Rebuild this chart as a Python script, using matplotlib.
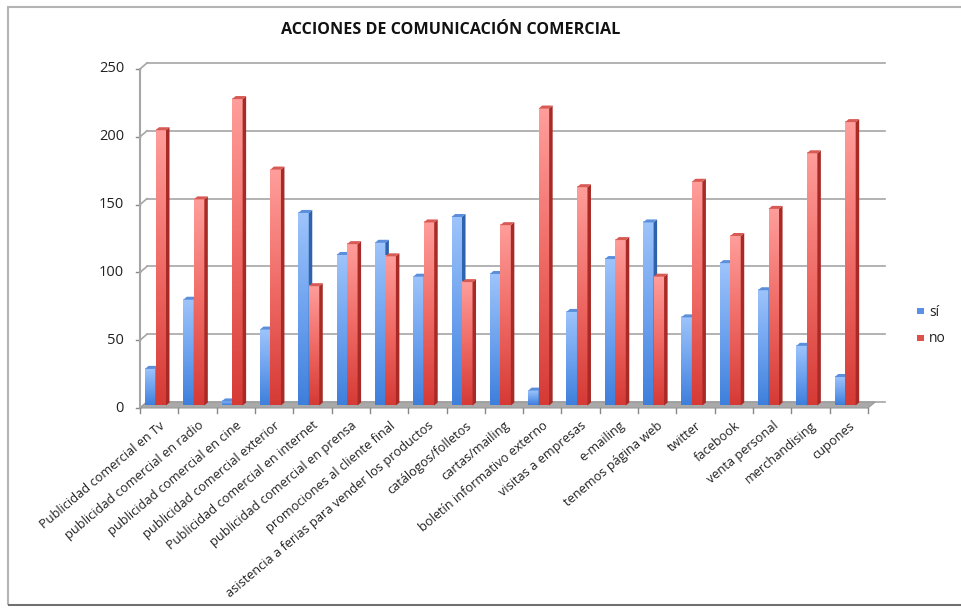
import numpy as np
import matplotlib
matplotlib.use("Agg")
import matplotlib.pyplot as plt
from matplotlib.patches import Polygon, Rectangle
from matplotlib.colors import LinearSegmentedColormap

plt.rcParams['font.family'] = ['Open Sans', 'DejaVu Sans']

title = "ACCIONES DE COMUNICACIÓN COMERCIAL"
categories = [
    "Publicidad comercial en Tv",
    "publicidad comercial en radio",
    "publicidad comercial en cine",
    "publicidad comercial exterior",
    "Publicidad comercial en internet",
    "publicidad comercial en prensa",
    "promociones al cliente final",
    "asistencia a ferias para vender los productos",
    "catálogos/folletos",
    "cartas/mailing",
    "boletín informativo externo",
    "visitas a empresas",
    "e-mailing",
    "tenemos página web",
    "twitter",
    "facebook",
    "venta personal",
    "merchandising",
    "cupones",
]
si = [27, 78, 3, 56, 142, 111, 120, 95, 139, 97, 11, 69, 108, 135, 65, 105, 85, 44, 21]
no = [203, 152, 226, 174, 88, 119, 110, 135, 91, 133, 219, 161, 122, 95, 165, 125, 145, 186, 209]
series_names = ["sí", "no"]
yticks = [0, 50, 100, 150, 200, 250]

W, H = 962, 609
fig = plt.figure(figsize=(W / 100, H / 100), dpi=100)

# frame
fig.patches.append(Rectangle((8 / W, 4 / H), 1.2, (H - 11) / H, transform=fig.transFigure,
                             fill=False, edgecolor='#b4b4b4', linewidth=1.5))
fig.patches.append(Rectangle((8 / W, 3 / H), 1.2, 0.003, transform=fig.transFigure,
                             facecolor='#707070', edgecolor='none'))

# axes in pixel coords: x 140..868, y0=408, y250=69
left, right, y0px, ytop = 140, 868, 408, 69
ax = fig.add_axes([left / W, 1 - y0px / H, (right - left) / W, (y0px - ytop) / H])
n = len(categories)
ax.set_xlim(0, n)
ax.set_ylim(0, 250)
ax.axis('off')

ux = n / (right - left)          # data units per pixel (x)
uy = 250 / (y0px - ytop)         # data units per pixel (y)

DX, DY = 7 * ux, 6 * uy          # depth offset of back wall
grid_c = '#a6a6a6'

# floor
ax.add_patch(Polygon([(0, 0), (n, 0), (n + DX + 0.2 * ux, DY), (DX, DY)], closed=True,
                     facecolor='#a9a9a9', edgecolor='#9a9a9a', lw=0.8, clip_on=False, zorder=1))
# gridlines on back wall + left wall diagonals
for t in yticks:
    ax.plot([DX, n + DX + 10 * ux], [t + DY, t + DY], color=grid_c, lw=1.2, clip_on=False, zorder=0.5)
    ax.plot([0, DX], [t, t + DY], color=grid_c, lw=1.2, clip_on=False, zorder=0.5)
    ax.plot([-4 * ux, 0], [t, t], color='#888888', lw=1, clip_on=False, zorder=2)
    ax.text(-16 * ux, t, str(t), ha='right', va='center', fontsize=10.5, color='#222222')
# front vertical axis line
ax.plot([0, 0], [0, 250], color=grid_c, lw=1.5, clip_on=False, zorder=2)
# x tick marks
for i in range(n + 1):
    ax.plot([i, i], [0, -5 * uy], color='#888888', lw=1, clip_on=False, zorder=2)

blue_cmap = LinearSegmentedColormap.from_list('b', ['#9ec4fb', '#6fa3ef', '#3e7fdc'])
red_cmap = LinearSegmentedColormap.from_list('r', ['#ff9e9b', '#f06b66', '#d63a35'])
grad = np.linspace(0, 1, 256).reshape(-1, 1)

bw = 10.5 * ux
bd, bdy = 3.5 * ux, 3 * uy
base_dy = 2.5 * uy


def draw_bar(x0, v, cmap, side_c, top_c, z):
    y0 = base_dy
    top = base_dy + v
    ax.imshow(grad, cmap=cmap, aspect='auto', extent=[x0, x0 + bw, y0, top],
              origin='upper', zorder=z, clip_on=False, interpolation='bilinear')
    ax.add_patch(Polygon([(x0 + bw, y0), (x0 + bw, top), (x0 + bw + bd, top + bdy),
                          (x0 + bw + bd, y0 + bdy)], closed=True, facecolor=side_c,
                         edgecolor='none', zorder=z, clip_on=False))
    ax.add_patch(Polygon([(x0, top), (x0 + bw, top), (x0 + bw + bd, top + bdy), (x0 + bd, top + bdy)],
                         closed=True, facecolor=top_c, edgecolor='none', zorder=z, clip_on=False))


for i in range(n):
    xb = i + 5 * ux
    xr = xb + bw
    draw_bar(xb, si[i], blue_cmap, '#2f62ad', '#5b8fdc', 3)
    draw_bar(xr, no[i], red_cmap, '#a82a26', '#d85a55', 4)

ax.set_xlim(0, n)
ax.set_ylim(0, 250)

# category labels
for i, c in enumerate(categories):
    ax.text(i + 0.5, -11 * uy, c, rotation=40, ha='right', va='top', rotation_mode='anchor',
            fontsize=9.2, color='#222222')

# title
fig.text(451 / W, 1 - 30 / H, title, ha='center', va='center', fontsize=11.6,
         fontweight='bold', color='#111111')

# legend
for k, (name, col) in enumerate(zip(series_names, ['#5a90e6', '#e0504b'])):
    yy = 1 - (312 + k * 27) / H
    fig.patches.append(Rectangle((917 / W, yy - 2 / H), 7 / W, 6 / H, transform=fig.transFigure,
                                 facecolor=col, edgecolor='none'))
    fig.text(929 / W, yy, name, ha='left', va='center', fontsize=10, color='#222222')

fig.savefig('out.png', dpi=100)
